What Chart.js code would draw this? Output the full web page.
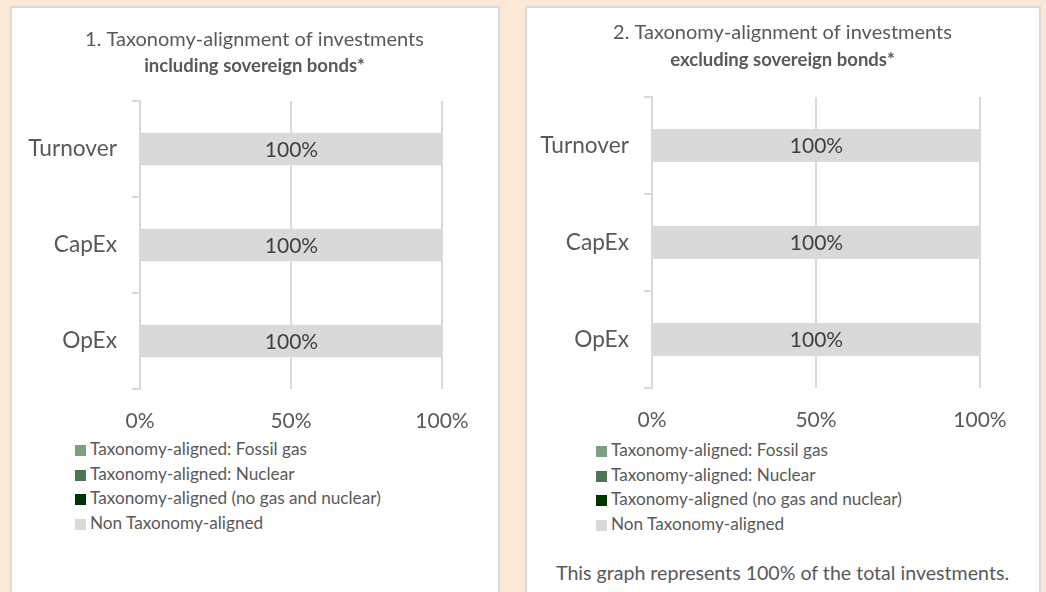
<!DOCTYPE html>
<html>
<head>
<meta charset="utf-8">
<script src="https://cdn.jsdelivr.net/npm/chart.js@4.4.1/dist/chart.umd.min.js"></script>
<style>
  body { margin: 0; background: #fbe8d6; width: 1046px; height: 592px; overflow: hidden; position: relative; font-family: Lato, sans-serif; }
  .panel { position: absolute; top: 6px; height: 600px; background: #fff; border: 2px solid #dadada; box-sizing: border-box; }
  .box { position: absolute; }
  .legend { position: absolute; color: #595959; font-size: 17.2px; }
  .legend div { height: 24.6px; line-height: 24.6px; white-space: nowrap; }
  .legend span { display: inline-block; width: 11px; height: 11px; margin-right: 4px; vertical-align: -1px; }
  .note { position: absolute; color: #595959; font-size: 19.6px; white-space: nowrap; }
</style>
</head>
<body>
<div class="panel" style="left:10px; width:490px;"></div>
<div class="panel" style="left:525px; width:516px;"></div>

<div class="box" style="left:11px; top:6px; width:487px; height:427px;"><canvas id="chartIncl"></canvas></div>
<div class="box" style="left:526px; top:6px; width:513px; height:426px;"><canvas id="chartExcl"></canvas></div>

<div class="legend" id="legendIncl" style="left:75px; top:437px;"></div>
<div class="legend" id="legendExcl" style="left:596px; top:438px;"></div>
<div class="note" style="left:526px; width:513px; top:561px; text-align:center;">This graph represents 100% of the total investments.</div>

<script>
const categories = ["Turnover", "CapEx", "OpEx"];
const seriesNames = [
    "Taxonomy-aligned: Fossil gas",
    "Taxonomy-aligned: Nuclear",
    "Taxonomy-aligned (no gas and nuclear)",
    "Non Taxonomy-aligned",
];
const seriesColors = ["#7f9f80", "#4e7553", "#003300", "#d9d9d9"];
const xTicks = [0, 50, 100];

// 1. including sovereign bonds
const inclFossilGas = [0, 0, 0];
const inclNuclear = [0, 0, 0];
const inclAligned = [0, 0, 0];
const inclNonAligned = [100, 100, 100];

// 2. excluding sovereign bonds
const exclFossilGas = [0, 0, 0];
const exclNuclear = [0, 0, 0];
const exclAligned = [0, 0, 0];
const exclNonAligned = [100, 100, 100];

Chart.defaults.font.family = "Lato, sans-serif";
Chart.defaults.color = "#595959";

// Draw the value in the middle of every non-empty bar
const barLabels = {
    id: "barLabels",
    afterDatasetsDraw(chart) {
        const ctx = chart.ctx;
        ctx.save();
        ctx.font = "21px Lato, sans-serif";
        ctx.fillStyle = "#404040";
        ctx.textAlign = "center";
        ctx.textBaseline = "middle";
        chart.data.datasets.forEach((ds, i) => {
            chart.getDatasetMeta(i).data.forEach((bar, j) => {
                const v = ds.data[j];
                if (!v) return;
                const p = bar.getProps(["x", "y", "base"], true);
                ctx.fillText(v + "%", (p.x + p.base) / 2, p.y + 1);
            });
        });
        ctx.restore();
    },
};

function buildLegend(id) {
    const el = document.getElementById(id);
    seriesNames.forEach((name, i) => {
        const row = document.createElement("div");
        row.innerHTML = '<span style="background:' + seriesColors[i] + '"></span>' + name;
        el.appendChild(row);
    });
}

// the right gap comes from the x axis padding so the titles stay centred in the panel
function renderChart(canvasId, title, subtitle, values, yWidth, rightGap, titlePad, subPad) {
    const ctx = document.getElementById(canvasId).getContext("2d");
    new Chart(ctx, {
        type: "bar",
        data: {
            labels: categories,
            datasets: values.map((data, i) => ({
                label: seriesNames[i],
                data: data,
                backgroundColor: seriesColors[i],
                borderWidth: 0,
                barPercentage: 1,
                categoryPercentage: 0.34,
            })),
        },
        options: {
            indexAxis: "y",
            responsive: true,
            maintainAspectRatio: false,
            animation: false,
            layout: { padding: 0 },
            plugins: {
                legend: { display: false },
                tooltip: { enabled: false },
                title: {
                    display: true,
                    text: title,
                    color: "#595959",
                    font: { size: 20, weight: "normal" },
                    padding: titlePad,
                },
                subtitle: {
                    display: true,
                    text: subtitle,
                    color: "#595959",
                    font: { size: 18.5, weight: "bold" },
                    padding: subPad,
                },
            },
            scales: {
                x: {
                    stacked: true,
                    min: 0,
                    max: 100,
                    afterBuildTicks: (scale) => {
                        scale.ticks = xTicks.map((v) => ({ value: v }));
                    },
                    afterFit: (scale) => {
                        scale.height = 44;
                        scale.paddingRight = rightGap;
                    },
                    ticks: {
                        font: { size: 21 },
                        color: "#595959",
                        padding: 20,
                        callback: (v) => v + "%",
                    },
                    grid: { color: "#d9d9d9", lineWidth: 2, drawTicks: false },
                    border: { display: false },
                },
                y: {
                    stacked: true,
                    afterFit: (scale) => {
                        scale.width = yWidth;
                    },
                    ticks: { font: { size: 22.7 }, color: "#595959", padding: 15 },
                    grid: { color: "#d9d9d9", lineWidth: 2, drawOnChartArea: false, tickLength: 8 },
                    border: { color: "#d9d9d9", width: 2 },
                },
            },
        },
        plugins: [barLabels],
    });
}

renderChart(
    "chartIncl",
    "1. Taxonomy-alignment of investments",
    "including sovereign bonds*",
    [inclFossilGas, inclNuclear, inclAligned, inclNonAligned],
    129, 56,
    { top: 22, bottom: 0 },
    { top: 2.9, bottom: 23.9 }
);
renderChart(
    "chartExcl",
    "2. Taxonomy-alignment of investments",
    "excluding sovereign bonds*",
    [exclFossilGas, exclNuclear, exclAligned, exclNonAligned],
    126, 59,
    { top: 15, bottom: 0 },
    { top: 3.9, bottom: 25.9 }
);
buildLegend("legendIncl");
buildLegend("legendExcl");
</script>
</body>
</html>
